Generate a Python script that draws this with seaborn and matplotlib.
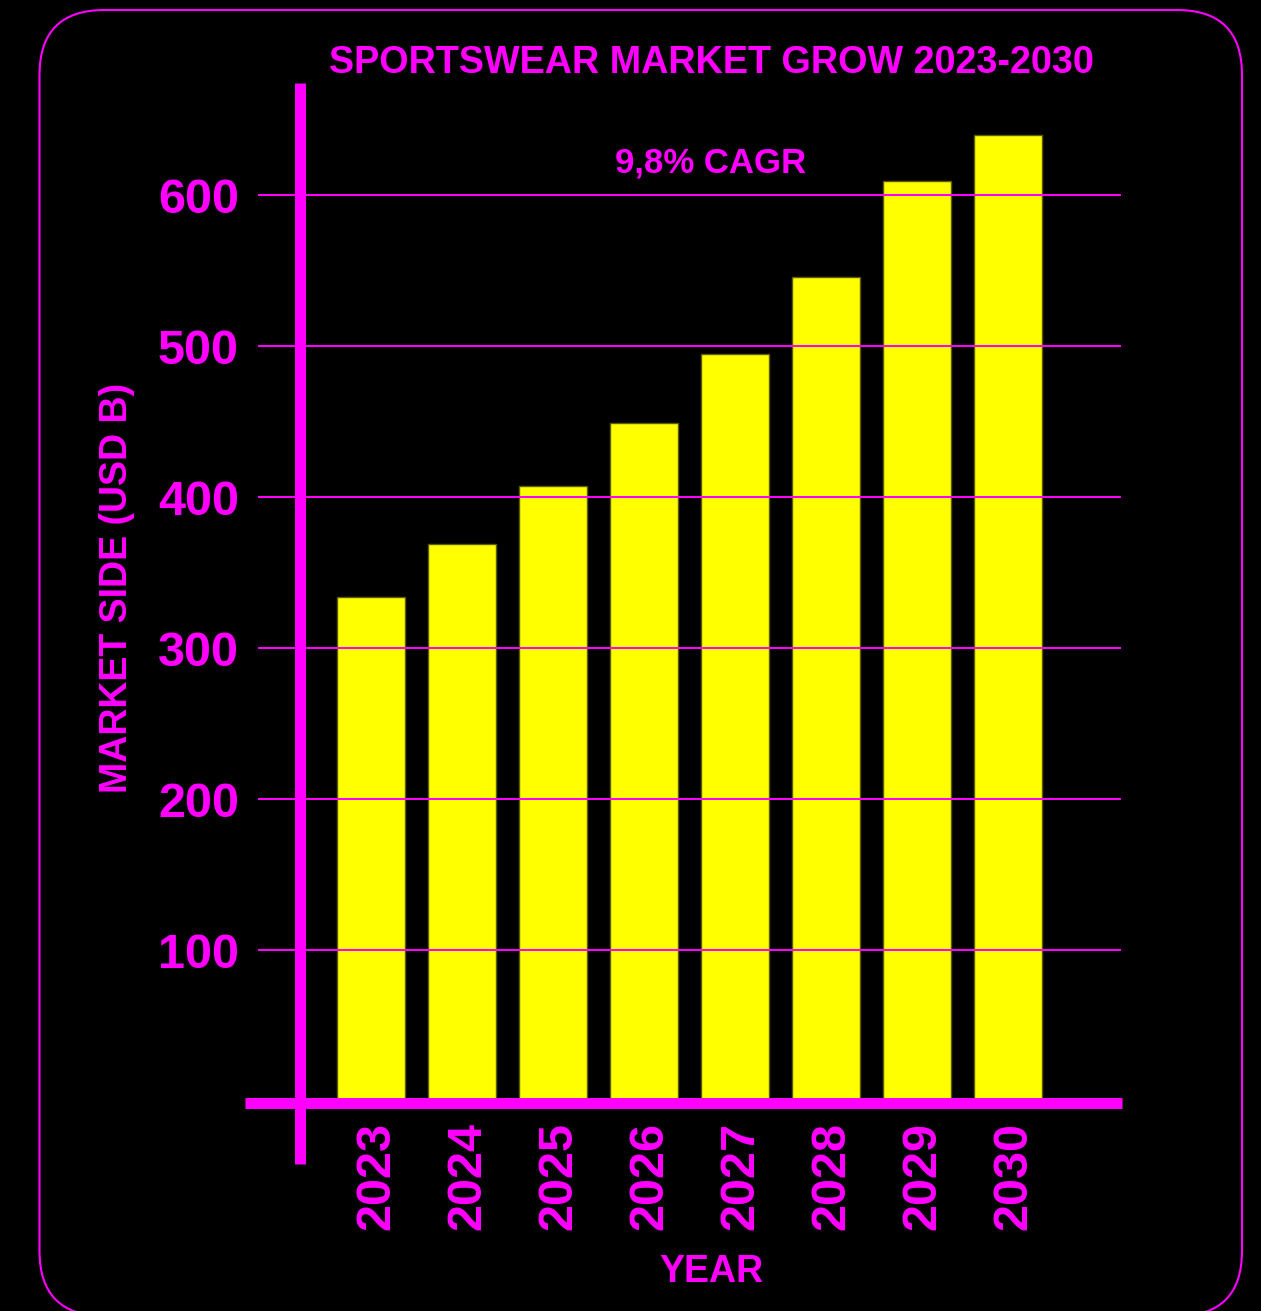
import matplotlib
matplotlib.use('Agg')
import matplotlib.pyplot as plt
import seaborn as sns
import pandas as pd
from matplotlib.patches import FancyBboxPatch
from matplotlib.transforms import IdentityTransform, ScaledTranslation

# data
years = ['2023', '2024', '2025', '2026', '2027', '2028', '2029', '2030']
market_size = [334, 369, 407, 449, 495, 546, 609, 640]
y_ticks = [100, 200, 300, 400, 500, 600]

MAGENTA = '#FF00FF'
YELLOW = '#FFFF00'
W, H = 1261, 1311

sns.set_theme(style='dark')
plt.rcParams['font.family'] = ['Liberation Sans', 'DejaVu Sans']
plt.rcParams['font.weight'] = 'bold'

df = pd.DataFrame({'year': years, 'size': market_size})

fig = plt.figure(figsize=(W / 100, H / 100), dpi=100, facecolor='black')
ax = fig.add_axes([258 / W, 1 - 1101 / H, 863 / W, 1018 / H])
ax.set_facecolor('black')

sns.barplot(data=df, x='year', y='size', color=YELLOW, saturation=1,
            width=0.75, edgecolor='#5c5c00', linewidth=1, ax=ax)

ax.set_xlim(-1.242, 8.242)
ax.set_ylim(0, 674.2)
ax.set_yticks(y_ticks)

# gridlines on top of the bars
ax.set_axisbelow(False)
ax.grid(axis='y', color=MAGENTA, linewidth=1.44)
ax.grid(axis='x', visible=False)

for s in ax.spines.values():
    s.set_visible(False)

# thick axis lines that overshoot like in the original
ax.axhline(-1, xmin=-13 / 863, xmax=1.001, color=MAGENTA, lw=7.9,
           solid_capstyle='butt', clip_on=False, zorder=4)
ax.axvline(-0.775, ymin=-63 / 1018, ymax=1, color=MAGENTA, lw=7.9,
           solid_capstyle='butt', clip_on=False, zorder=4)

ax.tick_params(axis='y', length=0, pad=13.7, labelsize=35, labelcolor=MAGENTA)
ax.tick_params(axis='x', length=0, pad=15, labelsize=35, labelcolor=MAGENTA,
               labelrotation=90)
shift = ScaledTranslation(0.06, 0, fig.dpi_scale_trans)
for lbl in ax.get_xticklabels():
    lbl.set_fontweight('bold')
    lbl.set_transform(lbl.get_transform() + shift)
for lbl in ax.get_yticklabels():
    lbl.set_fontweight('bold')

ax.set_xlabel('YEAR', fontsize=27, fontweight='bold', color=MAGENTA)
ax.xaxis.label.set_va('baseline')
ax.xaxis.set_label_coords(0.5255, -0.1778)
ax.set_ylabel('MARKET SIDE (USD B)', fontsize=27, fontweight='bold', color=MAGENTA)
ax.yaxis.set_label_coords(-0.1425, 0.504)

fig.text(711.5 / W, 1 - 73 / H, 'SPORTSWEAR MARKET GROW 2023-2030',
         ha='center', va='baseline', fontsize=27.2, fontweight='bold', color=MAGENTA)
fig.text(711 / W, 1 - 173 / H, '9,8% CAGR',
         ha='center', va='baseline', fontsize=25, fontweight='bold', color=MAGENTA)

# rounded frame around everything
frame = FancyBboxPatch((39.5, H - 1316), 1242 - 39.5, 1316 - 10,
                       boxstyle='round,pad=0,rounding_size=65',
                       transform=IdentityTransform(), fc='none',
                       ec=MAGENTA, lw=1.5)
fig.add_artist(frame)

fig.savefig('out.png', dpi=100, facecolor='black')
